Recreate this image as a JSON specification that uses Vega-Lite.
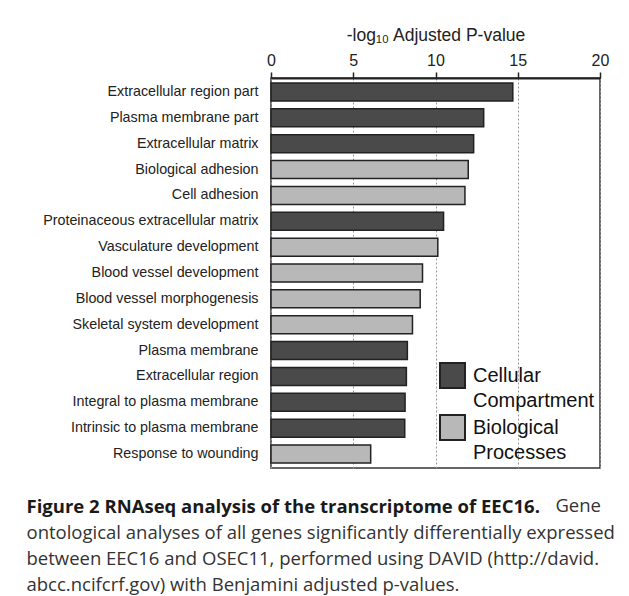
{
  "$schema": "https://vega.github.io/schema/vega-lite/v6.json",
  "background": "white",
  "padding": {"left": 25, "top": 25, "right": 0, "bottom": 0},
  "spacing": 24,
  "datasets": {
    "terms": [
      {"term": "Extracellular region part", "value": 14.7, "category": "Cellular Compartment"},
      {"term": "Plasma membrane part", "value": 12.93, "category": "Cellular Compartment"},
      {"term": "Extracellular matrix", "value": 12.32, "category": "Cellular Compartment"},
      {"term": "Biological adhesion", "value": 11.99, "category": "Biological Processes"},
      {"term": "Cell adhesion", "value": 11.79, "category": "Biological Processes"},
      {"term": "Proteinaceous extracellular matrix", "value": 10.49, "category": "Cellular Compartment"},
      {"term": "Vasculature development", "value": 10.14, "category": "Biological Processes"},
      {"term": "Blood vessel development", "value": 9.21, "category": "Biological Processes"},
      {"term": "Blood vessel morphogenesis", "value": 9.07, "category": "Biological Processes"},
      {"term": "Skeletal system development", "value": 8.6, "category": "Biological Processes"},
      {"term": "Plasma membrane", "value": 8.29, "category": "Cellular Compartment"},
      {"term": "Extracellular region", "value": 8.23, "category": "Cellular Compartment"},
      {"term": "Integral to plasma membrane", "value": 8.15, "category": "Cellular Compartment"},
      {"term": "Intrinsic to plasma membrane", "value": 8.13, "category": "Cellular Compartment"},
      {"term": "Response to wounding", "value": 6.06, "category": "Biological Processes"}
    ],
    "caption": [
      {"line": 1, "text": "Figure 2 RNAseq analysis of the transcriptome of EEC16.", "tail": "Gene"},
      {"line": 2, "text": "ontological analyses of all genes significantly differentially expressed", "tail": ""},
      {"line": 3, "text": "between EEC16 and OSEC11, performed using DAVID (http://david.", "tail": ""},
      {"line": 4, "text": "abcc.ncifcrf.gov) with Benjamini adjusted p-values.", "tail": ""}
    ]
  },
  "vconcat": [
    {
      "width": 329,
      "height": 390,
      "data": {"name": "terms"},
      "view": {"stroke": "#333", "strokeWidth": 1.5},
      "mark": {"type": "bar", "stroke": "#222", "strokeWidth": 1.5},
      "encoding": {
        "x": {
          "field": "value",
          "type": "quantitative",
          "scale": {"domain": [0, 20], "nice": false},
          "axis": {
            "orient": "top",
            "values": [0, 5, 10, 15, 20],
            "title": "-log₁₀ Adjusted P-value",
            "titleFont": "Liberation Sans",
            "titleFontSize": 17.5,
            "titleFontWeight": "normal",
            "titleColor": "#222",
            "titlePadding": 8,
            "labelFont": "Liberation Sans",
            "labelFontSize": 16,
            "labelColor": "#222",
            "labelPadding": 4,
            "labelFlush": false,
            "grid": true,
            "gridDash": [2, 2],
            "gridColor": "#999",
            "gridWidth": 1,
            "domainColor": "#222",
            "domainWidth": 2,
            "tickColor": "#222",
            "tickSize": 6,
            "tickWidth": 1.5
          }
        },
        "y": {
          "field": "term",
          "type": "nominal",
          "sort": null,
          "scale": {"paddingInner": 0.304, "paddingOuter": 0.193},
          "axis": {
            "title": null,
            "ticks": false,
            "domain": false,
            "labelFont": "Liberation Sans",
            "labelFontSize": 14.3,
            "labelColor": "#222",
            "labelPadding": 13,
            "labelLimit": 300,
            "minExtent": 245
          }
        },
        "color": {
          "field": "category",
          "type": "nominal",
          "scale": {"domain": ["Cellular Compartment", "Biological Processes"], "range": ["#4a4a4a", "#b8b8b8"]},
          "legend": {
            "orient": "bottom-right",
            "offset": 5,
            "title": null,
            "symbolType": "square",
            "symbolSize": 625,
            "symbolStrokeColor": "#222",
            "symbolStrokeWidth": 2,
            "symbolOpacity": 1,
            "labelFont": "Liberation Sans",
            "labelFontSize": 20,
            "labelColor": "#111",
            "labelOffset": 7,
            "labelLimit": 200,
            "labelExpr": "split(datum.label, ' ')",
            "rowPadding": 0,
            "padding": 0,
            "encoding": {"labels": {"lineHeight": {"value": 25}}}
          }
        }
      }
    },
    {
      "width": 330,
      "height": 104,
      "data": {"name": "caption"},
      "view": {"stroke": null},
      "mark": {"type": "text", "align": "right", "baseline": "middle", "font": "Open Sans", "fontSize": 18.5, "color": "#333"},
      "encoding": {
        "y": {
          "field": "text",
          "type": "nominal",
          "sort": null,
          "scale": {"type": "point", "padding": 0.5},
          "axis": {
            "title": null,
            "domain": false,
            "ticks": false,
            "labelAlign": "left",
            "labelBaseline": "middle",
            "labelPadding": 245,
            "labelLimit": 700,
            "labelFont": "Open Sans",
            "labelFontSize": 18.5,
            "labelColor": {"condition": {"test": "datum.index === 0", "value": "#1a1a1a"}, "value": "#333"},
            "labelFontWeight": {"condition": {"test": "datum.index === 0", "value": "bold"}, "value": "normal"}
          }
        },
        "x": {"datum": 1, "type": "quantitative", "scale": {"domain": [0, 1]}, "axis": null},
        "text": {"field": "tail"}
      }
    }
  ],
  "resolve": {"legend": {"color": "independent"}}
}
